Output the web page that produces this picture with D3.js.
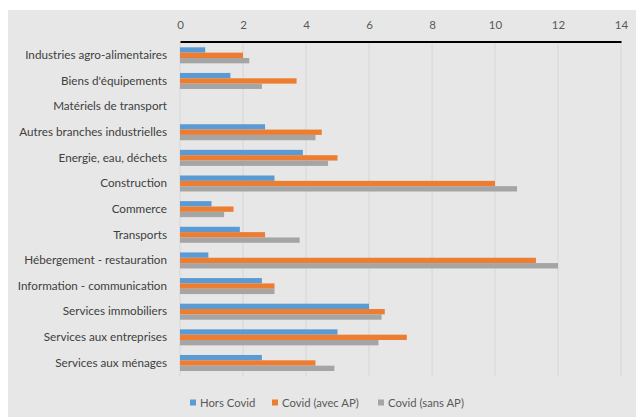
<!DOCTYPE html>
<html><head><meta charset="utf-8">
<script src="https://cdn.jsdelivr.net/npm/d3@7"></script>
<style>body{margin:0;background:#fff;} text{font-family:Lato, "Open Sans", sans-serif;}</style>
</head><body><svg id="c" width="636" height="417"></svg>
<script>
const categories = ["Industries agro-alimentaires","Biens d'équipements","Matériels de transport","Autres branches industrielles","Energie, eau, déchets","Construction","Commerce","Transports","Hébergement - restauration","Information - communication","Services immobiliers","Services aux entreprises","Services aux ménages"];
const seriesNames = ["Hors Covid","Covid (avec AP)","Covid (sans AP)"];
const horsCovid = [0.8,1.6,0,2.7,3.9,3.0,1.0,1.9,0.9,2.6,6.0,5.0,2.6];
const covidAvecAP = [2.0,3.7,0,4.5,5.0,10.0,1.7,2.7,11.3,3.0,6.5,7.2,4.3];
const covidSansAP = [2.2,2.6,0,4.3,4.7,10.7,1.4,3.8,12.0,3.0,6.4,6.3,4.9];
const tickValues = [0,2,4,6,8,10,12,14];
const colors = ["#5b9bd5","#ed7d31","#a5a5a5"];

const svg = d3.select("#c");
svg.append("rect").attr("x",8).attr("y",10).attr("width",628).attr("height",407).attr("fill","#e7e7e7");

const x = d3.scaleLinear().domain([0,14]).range([180,621]);
const y = d3.scaleBand().domain(categories).range([42.5,375.8]).paddingInner(0.375).paddingOuter(0.1875);
const series = [horsCovid, covidAvecAP, covidSansAP];
const ySub = d3.scaleBand().domain(d3.range(3)).range([0,y.bandwidth()]);

// gridlines
svg.append("g").selectAll("line").data(tickValues).join("line")
  .attr("x1",d=>x(d)).attr("x2",d=>x(d)).attr("y1",42).attr("y2",376)
  .attr("stroke","#d6d6d6").attr("stroke-width",1);

// bars
series.forEach((vals,si)=>{
  svg.append("g").selectAll("rect").data(vals.map((v,i)=>({v,c:categories[i]}))).join("rect")
    .attr("x",x(0)).attr("y",d=>y(d.c)+ySub(si)).attr("height",ySub.bandwidth())
    .attr("width",d=>x(d.v)-x(0)).attr("fill",colors[si]);
});

// top axis
const ax = svg.append("g").attr("transform","translate(0,41.5)")
  .call(d3.axisTop(x).tickValues(tickValues).tickSize(0).tickPadding(13).tickFormat(d3.format("d")));
ax.select(".domain").attr("stroke","#000").attr("stroke-width",2);
ax.selectAll("text").attr("font-size",11.5).attr("fill","#595959").attr("font-family","Lato, sans-serif");

// category labels
const ay = svg.append("g").attr("transform","translate(180,0)")
  .call(d3.axisLeft(y).tickSize(0).tickPadding(13));
ay.select(".domain").remove();
ay.selectAll("text").attr("font-size",11.7).attr("fill","#404040").attr("font-family","Lato, sans-serif");

// legend
const legX = [190,272,378];
const leg = svg.append("g");
seriesNames.forEach((n,i)=>{
  leg.append("rect").attr("x",legX[i]).attr("y",399.5).attr("width",6).attr("height",6).attr("fill",colors[i]);
  leg.append("text").attr("x",legX[i]+10).attr("y",406.5).attr("font-size",11.3).attr("fill","#595959").text(n);
});
</script></body></html>
